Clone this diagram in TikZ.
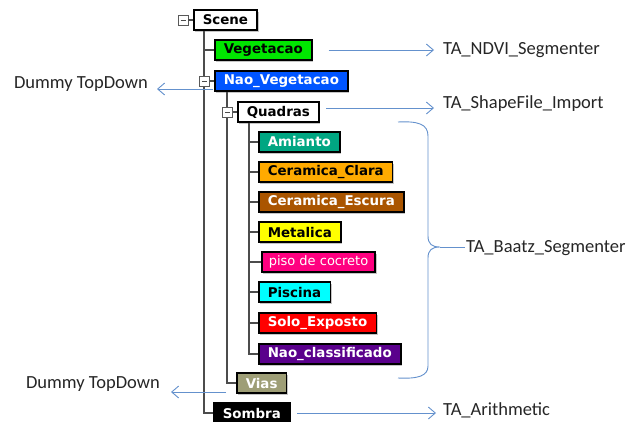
\documentclass[tikz,border=0pt]{standalone}
\usepackage{fontspec}
\setmainfont{Carlito}
\newfontfamily\boxfont{DejaVu Sans}
\usetikzlibrary{arrows.meta,shadows}
\definecolor{arrowblue}{RGB}{100,145,205}
\definecolor{vegcol}{RGB}{0,230,0}
\definecolor{nvcol}{RGB}{0,85,255}
\definecolor{amcol}{RGB}{0,166,130}
\definecolor{cccol}{RGB}{255,170,0}
\definecolor{cecol}{RGB}{170,85,0}
\definecolor{mecol}{RGB}{255,255,0}
\definecolor{picol}{RGB}{255,0,128}
\definecolor{pscol}{RGB}{0,255,255}
\definecolor{socol}{RGB}{255,0,0}
\definecolor{nccol}{RGB}{90,0,140}
\definecolor{vicol}{RGB}{158,158,118}
\tikzset{
  cls/.style={draw=black, line width=1.5pt, anchor=west, minimum height=20pt,
    inner xsep=9pt, inner ysep=0pt, font=\boxfont\bfseries\fontsize{13.4}{15}\selectfont,
    drop shadow={shadow xshift=1.5pt, shadow yshift=-1.5pt, opacity=.45}},
  minusbox/.style={draw=black!65, line width=.8pt, fill=white, minimum size=10pt, inner sep=0pt,
    path picture={\draw[black!70, line width=.8pt] ([xshift=2.5pt]path picture bounding box.west) -- ([xshift=-2.5pt]path picture bounding box.east);}},
  tree/.style={draw=black!70, line width=1.3pt},
  arr/.style={draw=arrowblue, line width=.9pt, -{Straight Barb[length=7pt,width=12pt]}},
  lbl/.style={font=\fontsize{18.5}{21}\selectfont, inner sep=1pt, text=black!85}
}
\begin{document}
\begin{tikzpicture}[x=1pt,y=-1pt]
\clip (0,0) rectangle (632,421);
\fill[white] (0,0) rectangle (632,421);
% class hierarchy
\node[cls, fill=white] (cls0) at (193,20){Scene};
\node[cls, fill=vegcol] (cls1) at (214,50){Vegetacao};
\node[cls, fill=nvcol, text=white] (cls2) at (214,81){Nao\_Vegetacao};
\node[cls, fill=white] (cls3) at (237,112){Quadras};
\node[cls, fill=amcol, text=white] (cls4) at (258,142){Amianto};
\node[cls, fill=cccol] (cls5) at (258,172){Ceramica\_Clara};
\node[cls, fill=cecol, text=white] (cls6) at (258,202){Ceramica\_Escura};
\node[cls, fill=mecol] (cls7) at (258,232){Metalica};
\node[cls, fill=picol, text=white, inner xsep=7pt, font=\boxfont\fontsize{13}{15}\selectfont] (cls8) at (261,262){piso de cocreto};
\node[cls, fill=pscol] (cls9) at (258,292){Piscina};
\node[cls, fill=socol, text=white] (cls10) at (258,323){Solo\_Exposto};
\node[cls, fill=nccol, text=white] (cls11) at (258,354){Nao\_classificado};
\node[cls, fill=vicol, text=white] (cls12) at (236,383){Vias};
\node[cls, fill=black, text=white] (cls13) at (213,413){Sombra};
% tree lines
\foreach \c in {cls1,cls2,cls13}
  \draw[tree] ([xshift=11pt]cls0.south west) |- (\c.west);
\foreach \c in {cls3,cls12}
  \draw[tree] ([xshift=13pt]cls2.south west) |- (\c.west);
\foreach \c in {cls4,cls5,cls6,cls7,cls8,cls9,cls10,cls11}
  \draw[tree] ([xshift=12pt]cls3.south west) |- (\c.west);
\node[minusbox] (mid0) at (183,20){};
\draw[tree] (mid0) -- (cls0);
\node[minusbox] (mid2) at (204.5,81){};
\node[minusbox] (mid3) at (227.5,112){};
% algorithms
\node[lbl, anchor=west] (lid1) at (442,50){TA\_NDVI\_Segmenter};
\draw[arr, shorten >=8pt] ([xshift=16pt]cls1.east) -- (lid1.west);
\node[lbl, anchor=west] (lid3) at (442,104){TA\_ShapeFile\_Import};
\coordinate (aq) at (326,108);
\draw[arr, shorten >=8pt] (aq) -- (lid3.west |- aq);
\node[lbl, anchor=east] (lid2) at (149,84){Dummy TopDown};
\coordinate (an) at (213,89);
\draw[arr, shorten >=8pt] (an) -- (lid2.east |- an);
\node[lbl, anchor=east] (lid12) at (161,384){Dummy TopDown};
\coordinate (av) at (226,392);
\draw[arr, shorten >=10pt] (av) -- (lid12.east |- av);
\node[lbl, anchor=west] (lid13) at (442,410){TA\_Arithmetic};
\coordinate (as) at (297,413);
\draw[arr, shorten >=6pt] (as) -- (lid13.west |- as);
% brace
\node[lbl, anchor=west] (lid4) at (465,248){TA\_Baatz\_Segmenter};
\coordinate (btip) at (440,247);
\draw[arrowblue, line width=.9pt] (398,122) .. controls (418,121) and (428,124) .. (428,136)
  -- (428,236) .. controls (428,244) and (432,247) .. (btip)
  .. controls (432,247) and (428,250) .. (428,258)
  -- (428,366) .. controls (428,376) and (418,379) .. (398,378);
\draw[arrowblue, line width=.9pt] (btip) -- (lid4.west |- btip);
\end{tikzpicture}
\end{document}
